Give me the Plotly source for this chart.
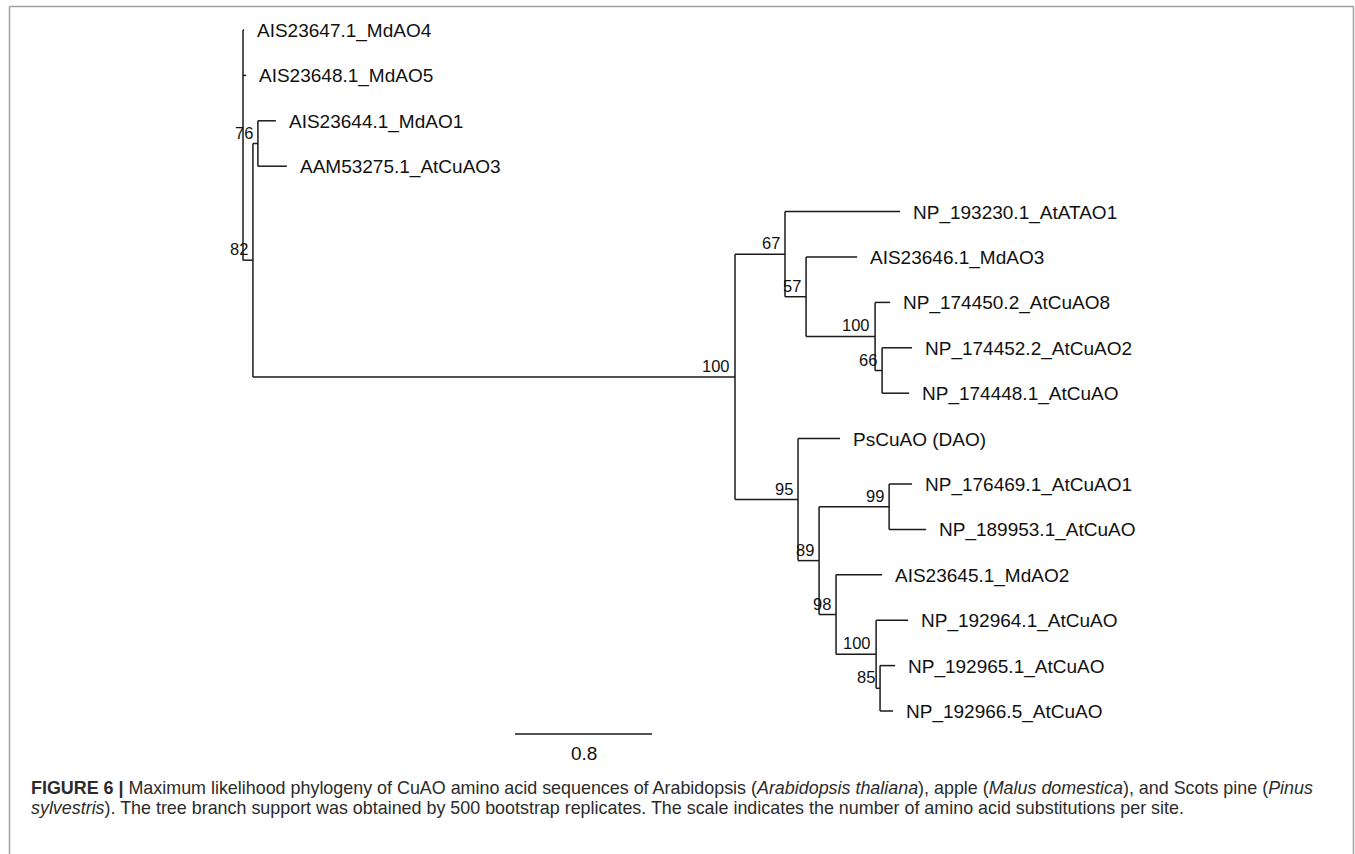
import plotly.graph_objects as go

W, H = 1355, 854

# ---- tree data (DFS order) ----
node_labels = [
    "", "AIS23647.1_MdAO4", "AIS23648.1_MdAO5", "", "", "AIS23644.1_MdAO1",
    "AAM53275.1_AtCuAO3", "", "", "NP_193230.1_AtATAO1", "", "AIS23646.1_MdAO3",
    "", "NP_174450.2_AtCuAO8", "", "NP_174452.2_AtCuAO2", "NP_174448.1_AtCuAO",
    "", "PsCuAO (DAO)", "", "", "NP_176469.1_AtCuAO1", "NP_189953.1_AtCuAO",
    "", "AIS23645.1_MdAO2", "", "NP_192964.1_AtCuAO", "", "NP_192965.1_AtCuAO",
    "NP_192966.5_AtCuAO",
]
parents = [-1, 0, 0, 0, 3, 4, 4, 3, 7, 8, 8, 10, 10, 12, 12, 14, 14,
           7, 17, 17, 19, 20, 20, 19, 23, 23, 25, 25, 27, 27]
branch_lengths = [0.0, 0.006, 0.018, 0.058, 0.029, 0.105, 0.169, 2.815, 0.292,
                  0.672, 0.123, 0.298, 0.403, 0.088, 0.041, 0.175, 0.158,
                  0.368, 0.245, 0.123, 0.409, 0.134, 0.216, 0.099, 0.269,
                  0.234, 0.187, 0.023, 0.088, 0.076]
support = ["", "", "", "82", "76", "", "", "100", "67", "", "57", "", "100", "",
           "66", "", "", "95", "", "89", "99", "", "", "98", "", "100", "",
           "85", "", ""]
scale_length = 0.8
scale_label = "0.8"

caption_line1 = ("<b>FIGURE 6 |</b> Maximum likelihood phylogeny of CuAO amino acid sequences of "
                 "Arabidopsis (<i>Arabidopsis thaliana</i>), apple (<i>Malus domestica</i>), "
                 "and Scots pine (<i>Pinus</i>")
caption_line2 = ("<i>sylvestris</i>). The tree branch support was obtained by 500 bootstrap "
                 "replicates. The scale indicates the number of amino acid substitutions per site.")

# ---- compute layout of tree ----
n = len(parents)
children = [[] for _ in range(n)]
for i, p in enumerate(parents):
    if p >= 0:
        children[p].append(i)
xs = [0.0] * n
for i in range(n):
    xs[i] = (xs[parents[i]] if parents[i] >= 0 else 0.0) + branch_lengths[i]
ys = [0.0] * n
leaf_counter = 0
for i in range(n):
    if not children[i]:
        ys[i] = leaf_counter
        leaf_counter += 1


def set_y(i):
    if children[i]:
        for c in children[i]:
            set_y(c)
        ys[i] = (ys[children[i][0]] + ys[children[i][-1]]) / 2.0


set_y(0)
lx, ly = [], []
for i in range(n):
    if children[i]:
        cy = [ys[c] for c in children[i]]
        lx += [xs[i], xs[i], None]
        ly += [min(cy), max(cy), None]
    if parents[i] >= 0:
        lx += [xs[parents[i]], xs[i], None]
        ly += [ys[i], ys[i], None]

# pixel mapping for axes ranges
root_px, unit_px = 243.0, 171.25
top_px, leaf_px = 30.0, 45.4
xr = [-root_px / unit_px, (W - root_px) / unit_px]
yr = [(H - top_px) / leaf_px, -top_px / leaf_px]

fig = go.Figure()
fig.add_trace(go.Scatter(x=lx, y=ly, mode="lines",
                         line=dict(color="#1a1a1a", width=1.5),
                         hoverinfo="skip", showlegend=False))

LABEL_FONT = "Liberation Sans, Arial, sans-serif"
ann = []
for i in range(n):
    if not children[i]:
        ann.append(dict(x=xs[i], y=ys[i], text=node_labels[i], showarrow=False,
                        xanchor="left", yanchor="middle", xshift=11, yshift=-1,
                        font=dict(family=LABEL_FONT, size=19, color="#111111")))
    if support[i]:
        ann.append(dict(x=xs[i], y=ys[i], text=support[i], showarrow=False,
                        xanchor="right", yanchor="bottom", xshift=-3, yshift=0,
                        font=dict(family=LABEL_FONT, size=16.5, color="#111111")))

# scale bar
sb_x0 = (515 - root_px) / unit_px
sb_y = (734 - top_px) / leaf_px
fig.add_trace(go.Scatter(x=[sb_x0, sb_x0 + scale_length], y=[sb_y, sb_y], mode="lines",
                         line=dict(color="#1a1a1a", width=1.6),
                         hoverinfo="skip", showlegend=False))
ann.append(dict(x=sb_x0 + scale_length / 2, y=sb_y, text=scale_label, showarrow=False,
                xanchor="center", yanchor="top", yshift=-7,
                font=dict(family=LABEL_FONT, size=19, color="#111111")))

CAP_FONT = "Liberation Sans, Arial, sans-serif"
ann.append(dict(x=29 / W, y=1 - 788 / H, xref="paper", yref="paper", text=caption_line1,
                showarrow=False, xanchor="left", yanchor="middle",
                font=dict(family=CAP_FONT, size=17.9, color="#2b2b2b")))
ann.append(dict(x=29 / W, y=1 - 808 / H, xref="paper", yref="paper", text=caption_line2,
                showarrow=False, xanchor="left", yanchor="middle",
                font=dict(family=CAP_FONT, size=17.9, color="#2b2b2b")))

border = dict(color="#a0a0a0", width=1.5)
bx0, bx1, by1 = 9.5 / W, 1353.5 / W, 1 - 6.5 / H
shapes = [
    dict(type="line", xref="paper", yref="paper", x0=bx0, x1=bx1, y0=by1, y1=by1, line=border),
    dict(type="line", xref="paper", yref="paper", x0=bx0, x1=bx0, y0=0, y1=by1, line=border),
    dict(type="line", xref="paper", yref="paper", x0=bx1, x1=bx1, y0=0, y1=by1, line=border),
]

fig.update_layout(
    width=W, height=H, margin=dict(l=0, r=0, t=0, b=0),
    paper_bgcolor="white", plot_bgcolor="white",
    xaxis=dict(range=xr, visible=False, fixedrange=True),
    yaxis=dict(range=yr, visible=False, fixedrange=True),
    annotations=ann,
    shapes=shapes,
)
fig.write_html("out.html", config={"displayModeBar": False},
               post_script="document.body.style.margin='0px';document.body.style.overflow='hidden';")
